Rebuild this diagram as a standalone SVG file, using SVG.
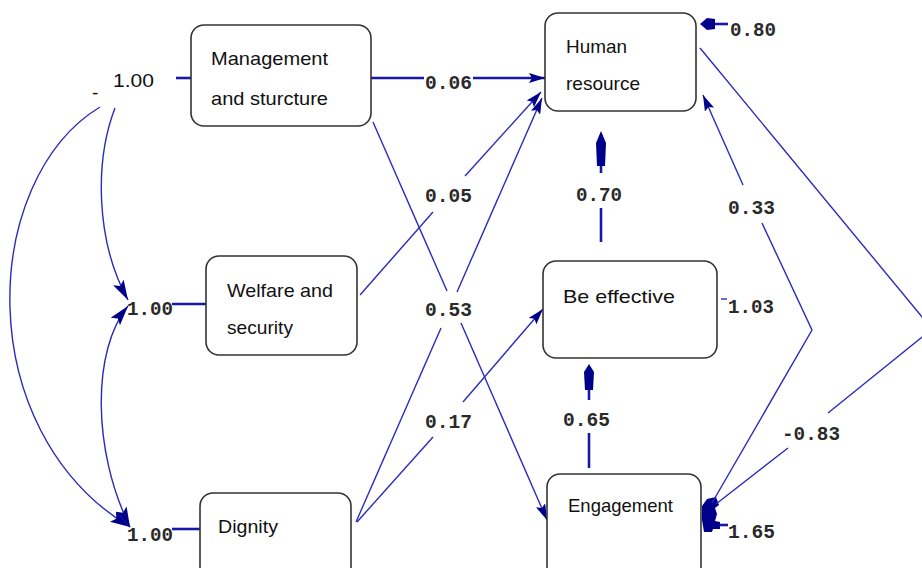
<svg xmlns="http://www.w3.org/2000/svg" width="922" height="568" viewBox="0 0 922 568">
<defs>
<marker id="ah" viewBox="0 0 16 10" refX="16" refY="5" markerWidth="16" markerHeight="10" markerUnits="userSpaceOnUse" orient="auto-start-reverse">
<path d="M0,0 L16,5 L0,10 L3,5 z" fill="#00008b"/>
</marker>
<marker id="ahL" viewBox="0 0 20 12" refX="20" refY="6" markerWidth="20" markerHeight="12" markerUnits="userSpaceOnUse" orient="auto-start-reverse">
<path d="M0,0 L20,6 L0,12 L4,6 z" fill="#00008b"/>
</marker>
<style>
.box{fill:#fff;stroke:#333;stroke-width:1.6}
.lbl{font-family:"Liberation Sans",Arial,sans-serif;font-size:19px;fill:#111}
.num{font-family:"Liberation Mono","Courier New",monospace;font-size:21px;font-weight:bold;fill:#2a2a2a}
.thin{fill:none;stroke:#2b2bbb;stroke-width:1.4}
.thick{fill:none;stroke:#1818a8;stroke-width:2.6}
.head{fill:#00008b}
</style>
</defs>
<rect width="922" height="568" fill="#fff"/>

<g id="connectors">
<!-- exogenous variances -->
<line class="thick" x1="176" y1="78" x2="191" y2="78"/>
<line class="thick" x1="172" y1="304" x2="206" y2="304"/>
<line class="thick" x1="172" y1="529" x2="200" y2="529"/>
<!-- covariances on the left -->
<path class="thin" d="M115,108 C95,160 95,240 128,300" marker-end="url(#ahL)"/>
<path class="thin" d="M128,306 C92,350 92,450 130,527" marker-start="url(#ahL)" marker-end="url(#ahL)"/>
<path class="thin" d="M100,107 C-20,180 -30,430 130,527" marker-end="url(#ahL)"/>
<!-- Management -> Human resource -->
<line class="thick" x1="371" y1="78" x2="424" y2="78"/>
<line class="thick" x1="473" y1="78" x2="545" y2="78" marker-end="url(#ah)"/>
<!-- Management -> Engagement -->
<line class="thin" x1="373" y1="122" x2="447" y2="291"/>
<line class="thin" x1="461" y1="323" x2="547" y2="520" marker-end="url(#ah)"/>
<!-- Welfare -> Human resource -->
<line class="thin" x1="360" y1="295" x2="433" y2="212"/>
<line class="thin" x1="465" y1="176" x2="541" y2="92" marker-end="url(#ah)"/>
<!-- Dignity -> Human resource -->
<line class="thin" x1="356" y1="522" x2="441" y2="328"/>
<line class="thin" x1="457" y1="292" x2="542" y2="98" marker-end="url(#ah)"/>
<!-- Dignity -> Be effective -->
<line class="thin" x1="357" y1="522" x2="433" y2="437"/>
<line class="thin" x1="463" y1="402" x2="543" y2="309" marker-end="url(#ah)"/>
<!-- Be effective -> Human resource -->
<line class="thick" x1="601" y1="242" x2="601" y2="208"/>
<line class="thick" x1="601" y1="173" x2="601" y2="160"/>
<polygon class="head" points="601,131 606,143 605,166 597,166 596,143"/>
<!-- Engagement -> Be effective -->
<line class="thick" x1="589" y1="468" x2="589" y2="433"/>
<line class="thick" x1="589" y1="400" x2="589" y2="388"/>
<polygon class="head" points="589,364 594,372 593,390 585,390 584,372"/>
<!-- residual arrows -->
<line class="thick" x1="728" y1="24" x2="712" y2="24"/>
<polygon class="head" points="700,24 707,18 715,19 715,29 707,30"/>
<line class="thin" x1="721" y1="299" x2="727" y2="299"/>
<line class="thick" x1="728" y1="525" x2="714" y2="525"/>
<path class="head" d="M707,499 L716,497 L719,505 L715,508 L717,514 L715,521 L720,522 L720,529 L713,529 L712,532 L704,532 L702,520 L702,506 Z"/>
<!-- HR <-> Engagement 0.33 -->
<line class="thin" x1="743" y1="185" x2="703" y2="95" marker-end="url(#ah)"/>
<polyline class="thin" points="762,223 812,330 712,503"/>
<!-- HR <-> Engagement -0.83 -->
<polyline class="thin" points="700,48 932,329 828,413"/>
<line class="thin" x1="788" y1="448" x2="716" y2="504"/>
</g>

<g id="node-management">
<rect class="box" x="191" y="25" width="180" height="101" rx="13"/>
<text class="lbl" x="211" y="65" textLength="117" lengthAdjust="spacingAndGlyphs">Management</text>
<text class="lbl" x="211" y="105" textLength="117" lengthAdjust="spacingAndGlyphs">and sturcture</text>
</g>
<g id="node-welfare">
<rect class="box" x="206" y="256" width="151" height="99" rx="13"/>
<text class="lbl" x="227" y="297" textLength="106" lengthAdjust="spacingAndGlyphs">Welfare and</text>
<text class="lbl" x="227" y="334" textLength="66" lengthAdjust="spacingAndGlyphs">security</text>
</g>
<g id="node-dignity">
<rect class="box" x="200" y="493" width="151" height="90" rx="13"/>
<text class="lbl" x="218" y="533" textLength="60" lengthAdjust="spacingAndGlyphs">Dignity</text>
</g>
<g id="node-human-resource">
<rect class="box" x="545" y="13" width="151" height="98" rx="13"/>
<text class="lbl" x="566" y="53" textLength="61" lengthAdjust="spacingAndGlyphs">Human</text>
<text class="lbl" x="566" y="90" textLength="74" lengthAdjust="spacingAndGlyphs">resource</text>
</g>
<g id="node-be-effective">
<rect class="box" x="543" y="261" width="174" height="97" rx="13"/>
<text class="lbl" x="563" y="303" textLength="112" lengthAdjust="spacingAndGlyphs">Be effective</text>
</g>
<g id="node-engagement">
<rect class="box" x="547" y="474" width="154" height="110" rx="13"/>
<text class="lbl" x="568" y="512" textLength="105" lengthAdjust="spacingAndGlyphs">Engagement</text>
</g>

<g id="labels">
<text class="lbl" x="113" y="87" textLength="41" lengthAdjust="spacingAndGlyphs">1.00</text>
<text class="lbl" x="92" y="99" font-size="12">-</text>
<text class="num" x="127" y="315" textLength="46" lengthAdjust="spacingAndGlyphs">1.00</text>
<text class="num" x="127" y="541" textLength="46" lengthAdjust="spacingAndGlyphs">1.00</text>
<text class="num" x="425" y="89" textLength="47" lengthAdjust="spacingAndGlyphs">0.06</text>
<text class="num" x="425" y="202" textLength="47" lengthAdjust="spacingAndGlyphs">0.05</text>
<text class="num" x="425" y="316" textLength="47" lengthAdjust="spacingAndGlyphs">0.53</text>
<text class="num" x="425" y="428" textLength="47" lengthAdjust="spacingAndGlyphs">0.17</text>
<text class="num" x="576" y="201" textLength="46" lengthAdjust="spacingAndGlyphs">0.70</text>
<text class="num" x="730" y="36" textLength="46" lengthAdjust="spacingAndGlyphs">0.80</text>
<text class="num" x="728" y="214" textLength="47" lengthAdjust="spacingAndGlyphs">0.33</text>
<text class="num" x="728" y="313" textLength="46" lengthAdjust="spacingAndGlyphs">1.03</text>
<text class="num" x="563" y="426" textLength="47" lengthAdjust="spacingAndGlyphs">0.65</text>
<text class="num" x="782" y="440" textLength="58" lengthAdjust="spacingAndGlyphs">-0.83</text>
<text class="num" x="728" y="538" textLength="47" lengthAdjust="spacingAndGlyphs">1.65</text>
</g>
</svg>
